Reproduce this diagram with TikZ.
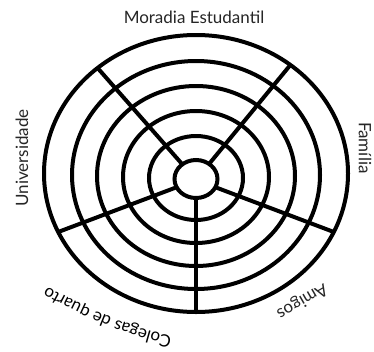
\documentclass[tikz,border=0pt]{standalone}
\usepackage{fontspec}
\setmainfont{Lato}
\usetikzlibrary{shapes.geometric,decorations.text}
\tikzset{
  ring/.style={draw, ellipse, line width=4pt, inner sep=0pt, outer sep=0pt},
  spoke/.style={line width=4pt},
  sectorlabel/.style={font=\fontsize{17}{20}\selectfont, text=black!85, inner sep=0pt},
}

\begin{document}
\begin{tikzpicture}[x=1pt,y=-1pt]
  \useasboundingbox[fill=white] (0,0) rectangle (374,351);
  % rings, inner to outer
  \foreach \n/\cy/\w/\h in {1/179/43/38, 2/178/94/84, 3/177/146/132,
      4/176/198/180, 5/175/248/228, 6/173.5/304/277}
    \node[ring, minimum width=\w pt, minimum height=\h pt] (ring\n) at (196,\cy) {};
  % spokes
  \foreach \a in {49,133,203,270,337}
    \draw[spoke] (ring1.\a) -- (ring6.\a);
  % labels
  \node[sectorlabel] (moradia) at (194,17) {Moradia Estudantil};
  \node[sectorlabel, rotate=90] (universidade) at (22,158) {Universidade};
  \node[sectorlabel, rotate=-90] (familia) at (365,148) {Família};
  \node[sectorlabel, rotate=210] (amigos) at (302,301) {Amigos};
  \coordinate (colegasA) at (192,340);
  \coordinate (colegasB) at (30,276);
  \begin{scope}[color=black!85]
    \path[decorate, decoration={text along path, text align=center,
        text={|\fontsize{17}{20}\selectfont|Colegas de quarto}}]
      (colegasA) .. controls (140,332) and (84,310) .. (colegasB);
  \end{scope}
\end{tikzpicture}
\end{document}
